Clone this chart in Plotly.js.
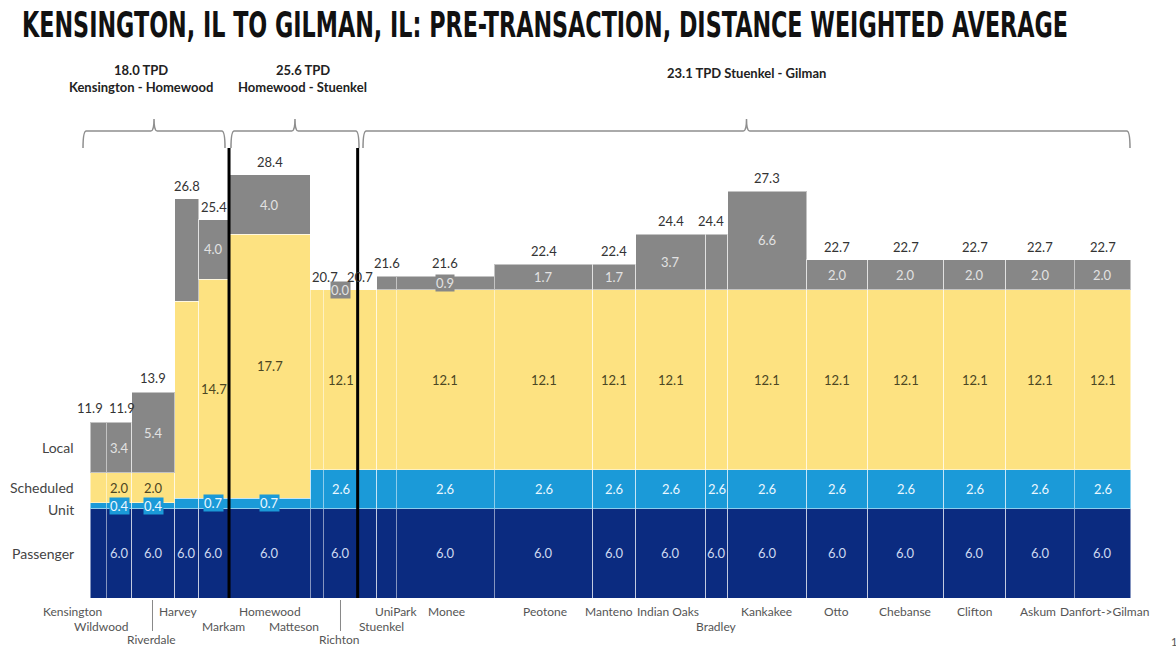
<!DOCTYPE html>
<html><head><meta charset="utf-8">
<script src="https://cdn.plot.ly/plotly-3.0.1.min.js"></script>
<style>html,body{margin:0;padding:0;background:#fff;} #chart{width:1176px;height:652px;}</style>
</head><body><div id="chart"></div>
<script>
// ---------------- DATA ----------------
const stations = ["Kensington","Wildwood","Riverdale","Harvey","Markam","Homewood","Matteson","Richton","Stuenkel","UniPark","Monee","Peotone","Manteno","Indian Oaks","Bradley","Kankakee","Otto","Chebanse","Clifton","Askum","Danfort","Gilman"];
// estimated distance along the line (miles) of each station
const mileposts = [0.0,1.1,2.8,5.7,7.3,9.35,14.8,15.7,18.0,19.3,20.6,27.2,33.8,36.7,41.4,42.9,48.2,52.3,57.4,61.6,66.2,70.0];
// values for each segment between consecutive stations (TPD)
const passenger = [6.0,6.0,6.0,6.0,6.0,6.0,6.0,6.0,6.0,6.0,6.0,6.0,6.0,6.0,6.0,6.0,6.0,6.0,6.0,6.0,6.0];
const unit      = [0.4,0.4,0.4,0.7,0.7,0.7,2.6,2.6,2.6,2.6,2.6,2.6,2.6,2.6,2.6,2.6,2.6,2.6,2.6,2.6,2.6];
const scheduled = [2.0,2.0,2.0,13.2,14.7,17.7,12.1,12.1,12.1,12.1,12.1,12.1,12.1,12.1,12.1,12.1,12.1,12.1,12.1,12.1,12.1];
const local     = [3.4,3.4,5.4,6.9,4.0,4.0,0.0,0.0,0.0,0.9,0.9,1.7,1.7,3.7,3.7,6.6,2.0,2.0,2.0,2.0,2.0];
const totals    = [11.9,11.9,13.9,26.8,25.4,28.4,20.7,20.7,20.7,21.6,21.6,22.4,22.4,24.4,24.4,27.3,22.7,22.7,22.7,22.7,22.7];
const categories = ["Passenger","Unit","Scheduled","Local"];
// station tick labels
const tickLabels = ["Kensington","Wildwood","Riverdale","Harvey","Markam","Homewood","Matteson","Richton","Stuenkel","UniPark","Monee","Peotone","Manteno","Indian Oaks","Bradley","Kankakee","Otto","Chebanse","Clifton","Askum","Danfort->Gilman"];
// section headers
const sectionTitles = ["18.0 TPD","25.6 TPD","23.1 TPD Stuenkel - Gilman"];
const sectionSubtitles = ["Kensington - Homewood","Homewood - Stuenkel",""];
const sectionStations = [[0,5],[5,8],[8,21]];
const titleText = "KENSINGTON, IL TO GILMAN, IL: PRE-TRANSACTION, DISTANCE WEIGHTED AVERAGE";

// ---------------- LAYOUT HELPERS (positions / styles) ----------------
const W = 1176, H = 652, MT = 60, MB = 2;
const PXX = 14.87, PXY = 14.9, X0 = 90, Y0 = 598;
const xr = [-X0 / PXX, (W - X0) / PXX];
const yr = [-(H - MB - Y0) / PXY, (Y0 - MT) / PXY];
const yP = p => (Y0 - p) / PXY;
const xP = p => (p - X0) / PXX;

const tickPos = [xP(72),xP(101),xP(151),xP(178),xP(223),xP(270),xP(294),xP(339),xP(381),xP(396),xP(446),xP(545),xP(609),xP(668),xP(716),xP(766),xP(836),xP(905),xP(974),xP(1038),xP(1104)];
const tickRow = [0,1,2,0,1,0,1,2,1,0,0,0,0,0,1,0,0,0,0,0,0];
const rowY = [yP(611), yP(626), yP(639)];
const innerLabels = ['none','all','all','p','all','all','none','all','none','none','all','all','all','all','pu','all','all','all','all','all','all'];
const totalShift = [-8,3,0,0,0,0,8,null,-7,0,0,0,0,0,-6,0,0,0,0,0,0];

const colors = ['#0b2b80','#1b9ad8','#fde281','#878787'];
const labelColors = ['#cdd9f0','#eaf7ff','#4b4623','#e2e2e2'];
const FONT = 'Lato, "Open Sans", sans-serif';

const nSeg = passenger.length;
const mids = [], widths = [];
for (let i = 0; i < nSeg; i++) {
  mids.push((mileposts[i] + mileposts[i + 1]) / 2);
  widths.push(mileposts[i + 1] - mileposts[i]);
}

const series = [passenger, unit, scheduled, local];
const traces = series.map((vals, k) => ({
  type: 'bar', x: mids, y: vals, width: widths, name: categories[k],
  marker: {color: colors[k], line: {color: 'rgba(255,255,255,0.5)', width: 1}},
  hoverinfo: 'skip', showlegend: false
}));

const ann = [];
for (let i = 0; i < nSeg; i++) {
  const mode = innerLabels[i];
  const vals = [passenger[i], unit[i], scheduled[i], local[i]];
  let base = 0;
  const centers = vals.map(v => { const c = base + v / 2; base += v; return c; });
  let show = [];
  if (mode === 'all') show = [0,1,2,3];
  else if (mode === 'p') show = [0];
  else if (mode === 'pu') show = [0,1];
  show.forEach(k => {
    const a = {x: mids[i], y: centers[k], text: vals[k].toFixed(1), showarrow: false,
      font: {family: FONT, size: 13, color: labelColors[k]}, xanchor: 'center', yanchor: 'middle'};
    if ((k === 1 || k === 3) && vals[k] < 1) { a.bgcolor = colors[k]; a.borderpad = 0; }
    ann.push(a);
  });
  if (totalShift[i] !== null) {
    ann.push({x: mids[i], y: totals[i], text: totals[i].toFixed(1), showarrow: false,
      xshift: totalShift[i], yshift: 3, yanchor: 'bottom', xanchor: 'center',
      font: {family: FONT, size: 13, color: '#333'}});
  }
}
// category labels (from first labelled segment)
{
  let base = 0; const v = [passenger[1], unit[1], scheduled[1], local[1]];
  const ys = v.map(x => { const c = base + x / 2; base += x; return c; });
  const shifts = [0, -4, 0, 0];
  categories.forEach((c, k) => ann.push({x: xP(76), y: ys[k], yshift: shifts[k], text: c, showarrow: false,
    xanchor: 'right', yanchor: 'middle', font: {family: FONT, size: 14, color: '#444'}}));
}
// station labels
tickLabels.forEach((t, j) => ann.push({x: tickPos[j], y: rowY[tickRow[j]], text: t, showarrow: false,
  xanchor: 'center', yanchor: 'middle', font: {family: FONT, size: 12, color: '#555'}}));
// section headers
const braceRanges = sectionStations.map(([a, b], s) => {
  const off0 = [-0.47, 0.13, 0.36][s], off1 = [-0.27, 0.09, -0.06][s];
  return [mileposts[a] + off0, mileposts[b] + off1];
});
const headShift = [-13, 8, 0];
sectionTitles.forEach((t, s) => {
  const c = (braceRanges[s][0] + braceRanges[s][1]) / 2;
  const single = sectionSubtitles[s] === '';
  ann.push({x: c, y: single ? yP(73) : yP(70), xshift: headShift[s], text: '<b>' + t + '</b>', showarrow: false,
    font: {family: FONT, size: 13, color: '#222'}});
  if (!single) ann.push({x: c, y: yP(87), xshift: headShift[s], text: '<b>' + sectionSubtitles[s] + '</b>', showarrow: false,
    font: {family: FONT, size: 13, color: '#222'}});
});
// page number
ann.push({x: xP(1169), y: yP(641), text: '1', showarrow: false, xanchor: 'left', font: {family: FONT, size: 11, color: '#555'}});

// shapes
const shapes = [];
const yEnd = yP(148), yLine = yP(131), yTip = yP(119), d = 0.22;
braceRanges.forEach(([x0, x1]) => {
  const xm = (x0 + x1) / 2;
  const path = `M${x0},${yEnd} Q${x0},${yLine} ${x0 + d},${yLine} L${xm - d},${yLine} Q${xm},${yLine} ${xm},${yTip} ` +
               `Q${xm},${yLine} ${xm + d},${yLine} L${x1 - d},${yLine} Q${x1},${yLine} ${x1},${yEnd}`;
  shapes.push({type: 'path', path: path, xref: 'x', yref: 'y', line: {color: '#8e8e8e', width: 1.5}});
});
[5, 8].forEach(si => shapes.push({type: 'line', xref: 'x', yref: 'y', x0: mileposts[si], x1: mileposts[si],
  y0: 0, y1: yEnd, line: {color: '#000', width: 3}, layer: 'above'}));
tickLabels.forEach((t, j) => { if (tickRow[j] === 2) shapes.push({type: 'line', xref: 'x', yref: 'y',
  x0: tickPos[j] + 0.1, x1: tickPos[j] + 0.1, y0: yP(600), y1: yP(631), line: {color: '#888', width: 1}}); });

const TITLE_LEFT = 22, TITLE_WIDTH = 1046;
const layout = {
  width: W, height: H, margin: {l: 0, r: 0, t: MT, b: MB},
  paper_bgcolor: '#fff', plot_bgcolor: '#fff', barmode: 'stack',
  title: {text: titleText, x: TITLE_LEFT / W, xanchor: 'left', y: 1 - 25 / H, yanchor: 'middle',
    font: {family: '"DejaVu Sans", sans-serif', size: 35, weight: 'bold', color: '#111'}},
  xaxis: {range: xr, visible: false, fixedrange: true},
  yaxis: {range: yr, visible: false, fixedrange: true},
  annotations: ann, shapes: shapes
};
Plotly.newPlot('chart', traces, layout, {displayModeBar: false, staticPlot: true}).then(gd => {
  // condense the title glyphs to the reference's width (text stays real text)
  const t = gd.querySelector('.gtitle');
  if (t) {
    t.setAttribute('textLength', TITLE_WIDTH);
    t.setAttribute('lengthAdjust', 'spacingAndGlyphs');
    t.setAttribute('x', TITLE_LEFT);
    t.setAttribute('text-anchor', 'start');
  }
});
</script></body></html>
